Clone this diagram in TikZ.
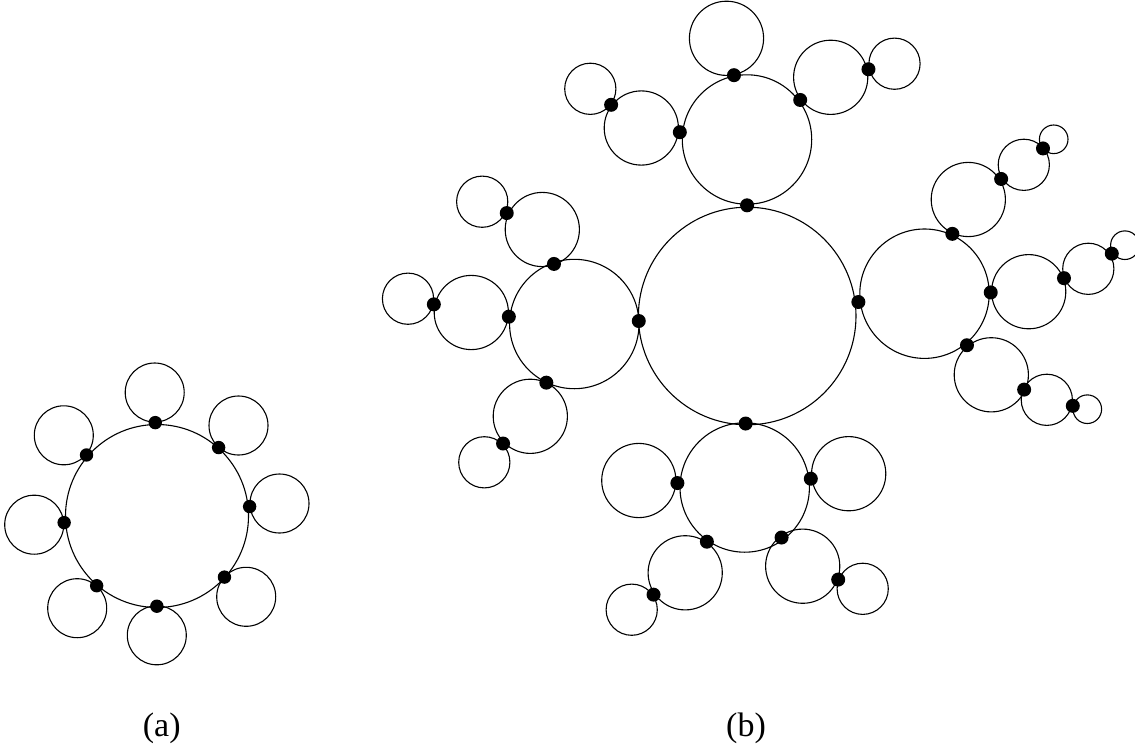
\documentclass[tikz,border=0pt]{standalone}
\usepackage{fontspec}
\setmainfont{Liberation Serif}
\usetikzlibrary{calc}
\tikzset{
  ring/.style={draw=black, line width=1.1pt},
  blob/.style={fill=black},
  lbl/.style={anchor=base, inner sep=0pt, font=\fontsize{34}{40}\selectfont}
}
% #1 name, #2 parent, #3,#4 centre, #5 parent radius, #6 radius, #7 dot radius
\newcommand\bub[7]{%
  \pgfmathsetmacro\bubf{#5/(#5+#6)}%
  \coordinate (#1) at (#3,#4);
  \draw[ring] (#1) circle[radius=#6];
  \fill[blob] ($(#2)!\bubf!(#1)$) circle[radius=#7];
}
\begin{document}
\begin{tikzpicture}[x=1pt,y=-1pt]
\useasboundingbox (0,0) rectangle (1135,744);
\clip (0,0) rectangle (1135,744);

% ---------- panel (a) ----------
\coordinate (A0) at (157,516);
\draw[ring] (A0) circle[radius=91.5];
\bub{a1}{A0}{154.7}{392.5}{91.5}{29.5}{6.7}
\bub{a2}{A0}{238.5}{425.5}{91.5}{29.5}{6.7}
\bub{a3}{A0}{279.5}{503.5}{91.5}{29.5}{6.7}
\bub{a4}{A0}{246.2}{596.8}{91.5}{29.5}{6.7}
\bub{a5}{A0}{156.8}{635.3}{91.5}{29.5}{6.7}
\bub{a6}{A0}{77.2}{608.2}{91.5}{29.5}{6.7}
\bub{a7}{A0}{34.2}{524.7}{91.5}{29.5}{6.7}
\bub{a8}{A0}{63.8}{435.3}{91.5}{29.5}{6.7}

% ---------- panel (b) ----------
\coordinate (B0) at (747.2,316);
\draw[ring] (B0) circle[radius=108.8];
% level 1
\bub{L}{B0}{574.3}{324}{108.8}{64.7}{7}
\bub{T}{B0}{747}{139.5}{108.8}{64.7}{7}
\bub{R}{B0}{924.5}{293.7}{108.8}{64.7}{7}
\bub{D}{B0}{744.7}{487.5}{108.8}{64.7}{7}
% left cluster
\bub{L1}{L}{542.3}{229.5}{64.7}{37.1}{7}
\bub{L1a}{L1}{482.2}{201.7}{37.1}{25.6}{7}
\bub{L2}{L}{471.3}{312.5}{64.7}{37.1}{7}
\bub{L2a}{L2}{408}{298.7}{37.1}{25.6}{7}
\bub{L3}{L}{530.3}{416.3}{64.7}{37.1}{7}
\bub{L3a}{L3}{484.3}{462.3}{37.1}{25.6}{7}
% top cluster
\bub{T1}{T}{726.5}{38.3}{64.7}{37.1}{7}
\bub{T2}{T}{641.3}{128}{64.7}{37.1}{7}
\bub{T2a}{T2}{590.3}{88.8}{37.1}{25.6}{7}
\bub{T3}{T}{830.7}{77.3}{64.7}{37.1}{7}
\bub{T3a}{T3}{894.5}{63.7}{37.1}{25.6}{7}
% right cluster
\bub{R1}{R}{968.3}{199.5}{64.7}{37.1}{7}
\bub{R1a}{R1}{1023.8}{164.8}{37.1}{25.6}{7}
\bub{R1b}{R1a}{1053.7}{139.3}{25.6}{14.3}{7}
\bub{R2}{R}{1028.7}{291.7}{64.7}{37.1}{7}
\bub{R2a}{R2}{1088.3}{268.8}{37.1}{25.6}{7}
\bub{R2b}{R2a}{1124.9}{245.2}{25.6}{14.3}{7}
\bub{R3}{R}{991.3}{374.8}{64.7}{37.1}{7}
\bub{R3a}{R3}{1046.8}{399.8}{37.1}{25.6}{7}
\bub{R3b}{R3a}{1087.3}{409.2}{25.6}{14.3}{7}
% bottom cluster
\bub{D1}{D}{638.8}{480.5}{64.7}{37.1}{7}
\bub{D2}{D}{848.7}{473.7}{64.7}{37.1}{7}
\bub{D3}{D}{685.2}{572.8}{64.7}{37.1}{7}
\bub{D3a}{D3}{631.7}{609.7}{37.1}{25.6}{7}
\bub{D4}{D}{802.7}{566.2}{64.7}{37.1}{7}
\bub{D4a}{D4}{862.7}{588.8}{37.1}{25.6}{7}

% ---------- labels ----------
\node[lbl] (la) at (161.7,736.5) {(a)};
\node[lbl] (lb) at (746,736.5) {(b)};
\end{tikzpicture}
\end{document}
